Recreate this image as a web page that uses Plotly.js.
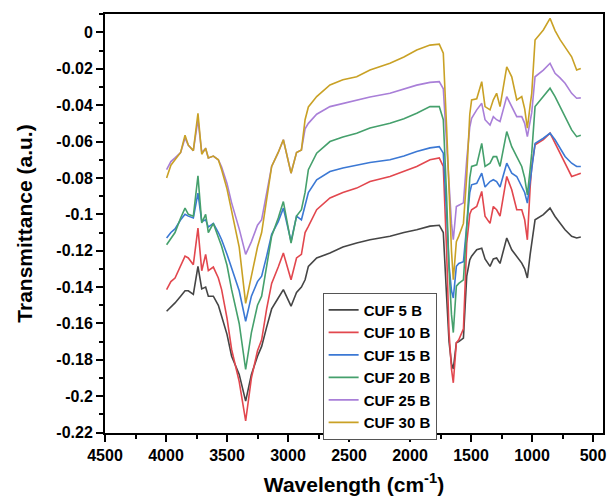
<!DOCTYPE html>
<html>
<head>
<meta charset="utf-8">
<script src="https://cdn.plot.ly/plotly-3.0.1.min.js"></script>
<style>html,body{margin:0;padding:0;background:#fff;}#chart{width:609px;height:502px;}</style>
</head>
<body>
<div id="chart"></div>
<script>
// Wavenumber (cm^-1) sample positions
var wavenumber = [3995, 3960, 3926, 3880, 3844, 3817, 3776, 3738, 3707, 3675, 3653, 3612, 3571, 3544, 3500, 3462, 3400, 3347, 3300, 3250, 3216, 3175, 3134, 3080, 3038, 2975, 2930, 2890, 2860, 2833, 2765, 2656, 2550, 2437, 2328, 2164, 2050, 1945, 1836, 1760, 1727, 1700, 1680, 1660, 1645, 1620, 1600, 1562, 1535, 1510, 1495, 1453, 1412, 1385, 1344, 1317, 1290, 1262, 1207, 1166, 1125, 1084, 1060, 1038, 1015, 1002, 975, 907, 852, 811, 770, 729, 675, 634, 600];

var cuf5 = [-0.1533, -0.151, -0.1487, -0.145, -0.142, -0.142, -0.144, -0.1286, -0.141, -0.140, -0.145, -0.145, -0.150, -0.156, -0.166, -0.178, -0.188, -0.2027, -0.188, -0.178, -0.1726, -0.162, -0.152, -0.146, -0.1414, -0.1505, -0.143, -0.140, -0.136, -0.1286, -0.124, -0.1213, -0.118, -0.1158, -0.114, -0.1121, -0.110, -0.1085, -0.1065, -0.106, -0.110, -0.145, -0.170, -0.182, -0.185, -0.1706, -0.170, -0.168, -0.134, -0.125, -0.123, -0.1195, -0.1186, -0.1245, -0.1286, -0.1245, -0.124, -0.127, -0.113, -0.1195, -0.1231, -0.1268, -0.130, -0.135, -0.122, -0.1158, -0.103, -0.1002, -0.0966, -0.1012, -0.105, -0.1085, -0.1121, -0.113, -0.1125];

var cuf10 = [-0.1414, -0.137, -0.135, -0.128, -0.123, -0.124, -0.1277, -0.1076, -0.131, -0.122, -0.131, -0.129, -0.135, -0.1414, -0.157, -0.1743, -0.192, -0.2136, -0.190, -0.175, -0.169, -0.152, -0.138, -0.129, -0.1213, -0.136, -0.124, -0.122, -0.110, -0.1066, -0.0975, -0.091, -0.088, -0.0856, -0.082, -0.0792, -0.0765, -0.0737, -0.070, -0.069, -0.0737, -0.120, -0.165, -0.185, -0.1926, -0.1706, -0.169, -0.163, -0.116, -0.100, -0.0975, -0.0957, -0.0874, -0.101, -0.105, -0.0957, -0.0975, -0.101, -0.0792, -0.0865, -0.0975, -0.0975, -0.103, -0.114, -0.085, -0.0737, -0.0618, -0.059, -0.0554, -0.0609, -0.066, -0.0719, -0.0792, -0.0783, -0.0774];

var cuf15 = [-0.113, -0.110, -0.108, -0.103, -0.100, -0.101, -0.102, -0.0884, -0.104, -0.103, -0.107, -0.105, -0.110, -0.114, -0.122, -0.130, -0.142, -0.1588, -0.145, -0.137, -0.134, -0.123, -0.111, -0.104, -0.0966, -0.1149, -0.101, -0.103, -0.095, -0.088, -0.081, -0.0765, -0.0745, -0.0728, -0.0715, -0.070, -0.068, -0.0655, -0.0635, -0.0628, -0.0664, -0.100, -0.128, -0.142, -0.146, -0.1286, -0.127, -0.126, -0.105, -0.088, -0.0838, -0.083, -0.0774, -0.085, -0.082, -0.081, -0.082, -0.085, -0.0719, -0.0774, -0.0792, -0.0847, -0.088, -0.0938, -0.082, -0.0756, -0.061, -0.0582, -0.0554, -0.059, -0.064, -0.0682, -0.0719, -0.0737, -0.0737];

var cuf20 = [-0.1167, -0.113, -0.110, -0.102, -0.0966, -0.100, -0.101, -0.0788, -0.1047, -0.100, -0.110, -0.105, -0.112, -0.1176, -0.128, -0.1414, -0.160, -0.1853, -0.165, -0.150, -0.145, -0.128, -0.112, -0.102, -0.093, -0.1158, -0.101, -0.0975, -0.088, -0.0755, -0.0664, -0.060, -0.0575, -0.0554, -0.0526, -0.050, -0.0475, -0.0444, -0.0408, -0.0408, -0.048, -0.090, -0.130, -0.155, -0.165, -0.1395, -0.138, -0.136, -0.105, -0.080, -0.0737, -0.0728, -0.061, -0.0737, -0.0719, -0.0683, -0.0683, -0.0737, -0.0545, -0.0628, -0.0683, -0.0737, -0.080, -0.0893, -0.075, -0.0664, -0.0408, -0.0353, -0.0307, -0.0353, -0.041, -0.0463, -0.0536, -0.0573, -0.0565];

var cuf25 = [-0.0755, -0.071, -0.069, -0.066, -0.058, -0.062, -0.065, -0.048, -0.066, -0.064, -0.069, -0.068, -0.070, -0.074, -0.083, -0.0937, -0.108, -0.122, -0.115, -0.106, -0.103, -0.088, -0.0737, -0.066, -0.059, -0.0774, -0.066, -0.0646, -0.053, -0.050, -0.045, -0.0408, -0.039, -0.037, -0.0355, -0.0335, -0.031, -0.029, -0.0275, -0.0271, -0.031, -0.060, -0.085, -0.105, -0.114, -0.0957, -0.095, -0.0937, -0.070, -0.052, -0.0472, -0.0426, -0.039, -0.048, -0.0509, -0.0463, -0.048, -0.049, -0.0353, -0.0408, -0.0463, -0.0463, -0.050, -0.0573, -0.050, -0.044, -0.0244, -0.0207, -0.017, -0.0225, -0.025, -0.028, -0.0335, -0.0362, -0.036];

var cuf30 = [-0.080, -0.073, -0.070, -0.066, -0.0565, -0.062, -0.065, -0.0445, -0.067, -0.0637, -0.069, -0.068, -0.070, -0.0755, -0.086, -0.0975, -0.118, -0.149, -0.133, -0.118, -0.110, -0.092, -0.0737, -0.066, -0.059, -0.0774, -0.066, -0.0646, -0.048, -0.041, -0.0353, -0.0289, -0.026, -0.0244, -0.0207, -0.017, -0.0135, -0.0097, -0.007, -0.0065, -0.0115, -0.052, -0.088, -0.120, -0.136, -0.115, -0.112, -0.105, -0.079, -0.045, -0.0371, -0.0365, -0.0271, -0.0408, -0.0426, -0.0371, -0.0335, -0.0408, -0.0189, -0.0244, -0.0371, -0.0353, -0.042, -0.0527, -0.040, -0.0335, -0.0042, 0.0013, 0.0077, 0.001, -0.004, -0.0079, -0.0134, -0.0207, -0.0198];

var seriesNames = ["CUF 5 B", "CUF 10 B", "CUF 15 B", "CUF 20 B", "CUF 25 B", "CUF 30 B"];
var seriesValues = [cuf5, cuf10, cuf15, cuf20, cuf25, cuf30];
var seriesColors = ["#454545", "#e2474e", "#3b78d4", "#45a06c", "#a97fd8", "#c9a125"];

var xTickVals = [4500, 4000, 3500, 3000, 2500, 2000, 1500, 1000, 500];
var xTickText = ["4500", "4000", "3500", "3000", "2500", "2000", "1500", "1000", "500"];
var yTickVals = [0, -0.02, -0.04, -0.06, -0.08, -0.1, -0.12, -0.14, -0.16, -0.18, -0.2, -0.22];
var yTickText = ["0", "-0.02", "-0.04", "-0.06", "-0.08", "-0.1", "-0.12", "-0.14", "-0.16", "-0.18", "-0.2", "-0.22"];

var FONT = "Liberation Sans, Arial, sans-serif";

var traces = seriesNames.map(function (name, i) {
  return {
    type: "scatter",
    mode: "lines",
    name: name,
    x: wavenumber,
    y: seriesValues[i],
    line: { color: seriesColors[i], width: 1.6 }
  };
});

var layout = {
  width: 609,
  height: 502,
  margin: { l: 105, r: 6, t: 14, b: 69 },
  paper_bgcolor: "#ffffff",
  plot_bgcolor: "#ffffff",
  showlegend: true,
  font: { family: FONT, color: "#000", size: 16 },
  xaxis: {
    range: [4500, 418],
    tickmode: "array",
    tickvals: xTickVals,
    ticktext: xTickText,
    ticks: "outside",
    ticklen: 7,
    tickwidth: 2,
    tickcolor: "#000",
    minor: { ticks: "outside", dtick: 250, tick0: 0, ticklen: 4, tickwidth: 2, tickcolor: "#000" },
    showline: true,
    linewidth: 2,
    linecolor: "#000",
    mirror: true,
    showgrid: false,
    zeroline: false,
    tickfont: { family: FONT, size: 16, color: "#000", weight: "bold" },
    title: { text: "Wavelength (cm<sup>-1</sup>)", font: { family: FONT, size: 21, color: "#000", weight: "bold" }, standoff: 14 }
  },
  yaxis: {
    range: [-0.2202, 0.0101],
    tickmode: "array",
    tickvals: yTickVals,
    ticktext: yTickText,
    ticks: "outside",
    ticklen: 7,
    tickwidth: 2,
    tickcolor: "#000",
    minor: { ticks: "outside", dtick: 0.01, tick0: 0, ticklen: 4, tickwidth: 2, tickcolor: "#000" },
    showline: true,
    linewidth: 2,
    linecolor: "#000",
    mirror: true,
    showgrid: false,
    zeroline: false,
    tickfont: { family: FONT, size: 16, color: "#000", weight: "bold" },
    title: { text: "Transmittance (a.u.)", font: { family: FONT, size: 21, color: "#000", weight: "bold" }, standoff: 18 }
  },
  legend: {
    x: 0.437,
    y: 0.335,
    xanchor: "left",
    yanchor: "top",
    bgcolor: "#ffffff",
    bordercolor: "#555",
    borderwidth: 1,
    font: { family: FONT, size: 15, color: "#000", weight: "bold" },
    tracegroupgap: 0
  }
};

Plotly.newPlot("chart", traces, layout, { staticPlot: true, displayModeBar: false });
</script>
</body>
</html>
